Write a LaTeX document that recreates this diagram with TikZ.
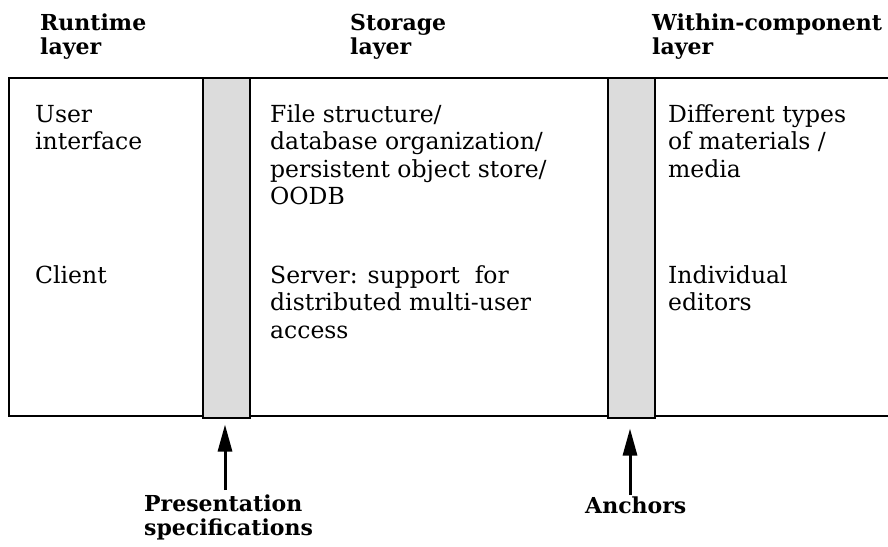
\documentclass[tikz,border=0pt]{standalone}
\usepackage{fontspec}
\setmainfont{DejaVu Serif}
\usetikzlibrary{arrows.meta}
\definecolor{stripgray}{HTML}{DCDCDC}
\tikzset{
  body/.style={anchor=base west, inner sep=0pt, align=left, font=\fontsize{23.5}{27.5}\selectfont},
  head/.style={anchor=base west, inner sep=0pt, align=left, font=\fontsize{22}{24}\selectfont\bfseries},
  strip/.style={draw=black, line width=2pt, fill=stripgray, minimum width=47pt, minimum height=340pt, inner sep=0pt},
  frame/.style={line width=2pt},
  pointer/.style={line width=3pt, -{Triangle[length=27pt,width=14pt]}}
}
\begin{document}
\begin{tikzpicture}[x=1pt,y=-1pt]
\useasboundingbox (0,0) rectangle (888,546);
% frame
\draw[frame] (888,78) -- (9,78) -- (9,416) -- (888,416);
% strips
\node[strip] (pres) at (226.5,247.5) {};
\node[strip] (anch) at (631.5,247.5) {};
% headers (anchor = baseline of last line)
\node[head] (hrun) at (40,54) {Runtime\\layer};
\node[head] (hsto) at (350,54) {Storage\\layer};
\node[head] (hwit) at (652,54) {Within-component\\layer};
% body
\node[body] (ui) at (35,149.5) {User\\interface};
\node[body] (client) at (35,283) {Client};
\node[body] (file) at (270,204.5) {File structure/\\database organization/\\persistent object store/\\OODB};
\node[body] (server) at (270,338) {Server: support\ \ for\\distributed multi-user\\access};
\node[body] (diff) at (668,177) {Different types\\of materials /\\media};
\node[body] (indiv) at (668,310.5) {Individual\\editors};
% footer
\node[head] (plabel) at (144,535) {Presentation\\specifications};
\node[head] (alabel) at (585,513) {Anchors};
\coordinate (ptail) at (225,490);
\coordinate (atail) at (630,495);
\draw[pointer, shorten >=6pt] (ptail) -- (ptail |- pres.south);
\draw[pointer, shorten >=10pt] (atail) -- (atail |- anch.south);
\end{tikzpicture}
\end{document}
